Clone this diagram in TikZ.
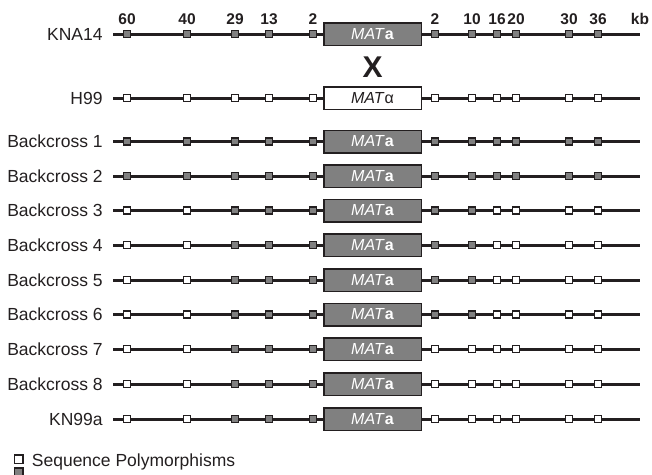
\documentclass[tikz,border=0pt]{standalone}
\usepackage{fontspec}
\setmainfont{Liberation Sans}
\usepackage{xcolor}
\usepackage{tikz}
\usetikzlibrary{positioning}
\definecolor{ink}{HTML}{231F20}
\definecolor{markgray}{HTML}{808080}

\begin{document}
\begin{tikzpicture}[x=1pt, y=-1pt, thick]
    % Stili
    \tikzstyle{snp}=[rectangle, draw=ink, line width=1.5pt, minimum size=7.2pt, inner sep=0pt]
    \tikzstyle{snpa}=[snp, fill=markgray]
    \tikzstyle{snpw}=[snp, fill=white]
    \tikzstyle{chrom}=[draw=ink, line width=3pt]
    \tikzstyle{matbox}=[rectangle, draw=ink, line width=1.5pt, minimum width=97.5pt, minimum height=22.5pt, inner sep=0pt, font=\fontsize{16}{16}\selectfont]
    \tikzstyle{strain}=[inner sep=0pt, text=ink, font=\fontsize{17.5}{19}\selectfont]
    \tikzstyle{kb}=[inner sep=0pt, text=ink, font=\fontsize{15.5}{16}\selectfont\bfseries]

    \useasboundingbox (0,0) rectangle (652,474);

    % Ceppi
    \foreach \r/\lab/\yy/\lw/\rw/\mf/\mc/\ma in {
        kna/KNA14/34/0/0/markgray/white/\textbf{a},
        h/H99/98/5/6/white/ink/α,
        b1/Backcross 1/141.5/0/0/markgray/white/\textbf{a},
        b2/Backcross 2/176/0/0/markgray/white/\textbf{a},
        b3/Backcross 3/210.5/2/4/markgray/white/\textbf{a},
        b4/Backcross 4/245/2/4/markgray/white/\textbf{a},
        b5/Backcross 5/280/2/4/markgray/white/\textbf{a},
        b6/Backcross 6/314.5/2/4/markgray/white/\textbf{a},
        b7/Backcross 7/349/2/6/markgray/white/\textbf{a},
        b8/Backcross 8/384/2/6/markgray/white/\textbf{a},
        kn/KN99a/419/2/6/markgray/white/\textbf{a}} {
        \coordinate (\r-s) at (113,\yy);
        \coordinate (\r-e) at (640,\yy);
        \draw[chrom] (\r-s) -- (\r-e);
        \node[strain, left=10pt of \r-s] (\r-lab) {\lab};
        \node[matbox, fill=\mf, text=\mc] (\r-mat) at (372.5,\yy) {\textit{MAT}\ma};
        \foreach \xx [count=\i] in {127,187,235,269,313} {
            \ifnum\i>\lw\relax \node[snpa] (\r-l\i) at (\xx,\yy) {};
            \else \node[snpw] (\r-l\i) at (\xx,\yy) {}; \fi
        }
        \pgfmathtruncatemacro\rk{6-\rw}
        \foreach \xx [count=\j] in {435,472,497,516,569,598} {
            \ifnum\j>\rk\relax \node[snpw] (\r-r\j) at (\xx,\yy) {};
            \else \node[snpa] (\r-r\j) at (\xx,\yy) {}; \fi
        }
    }

    % Posizioni (kb)
    \foreach \n [count=\i] in {60,40,29,13,2}
        \node[kb, above=4.5pt of kna-l\i] (num-l\i) {\n};
    \foreach \n [count=\j] in {2,10,16,20,30,36}
        \node[kb, above=4.5pt of kna-r\j] (num-r\j) {\n};
    \node[kb, above=9pt of kna-e] (kbunit) {kb};

    % Incrocio
    \node[inner sep=0pt, text=ink, font=\fontsize{30}{30}\selectfont\bfseries, below=10.5pt of kna-mat] (cross) {X};

    % Legenda
    \node[snp, fill=white, minimum size=8.5pt] (leg-w) at (18.5,459) {};
    \node[strain, right=8pt of leg-w, yshift=-2.5pt] (leg-txt) {Sequence Polymorphisms};
    \node[snp, fill=markgray, minimum size=8.5pt, below=3pt of leg-w] (leg-g) {};
\end{tikzpicture}
\end{document}
